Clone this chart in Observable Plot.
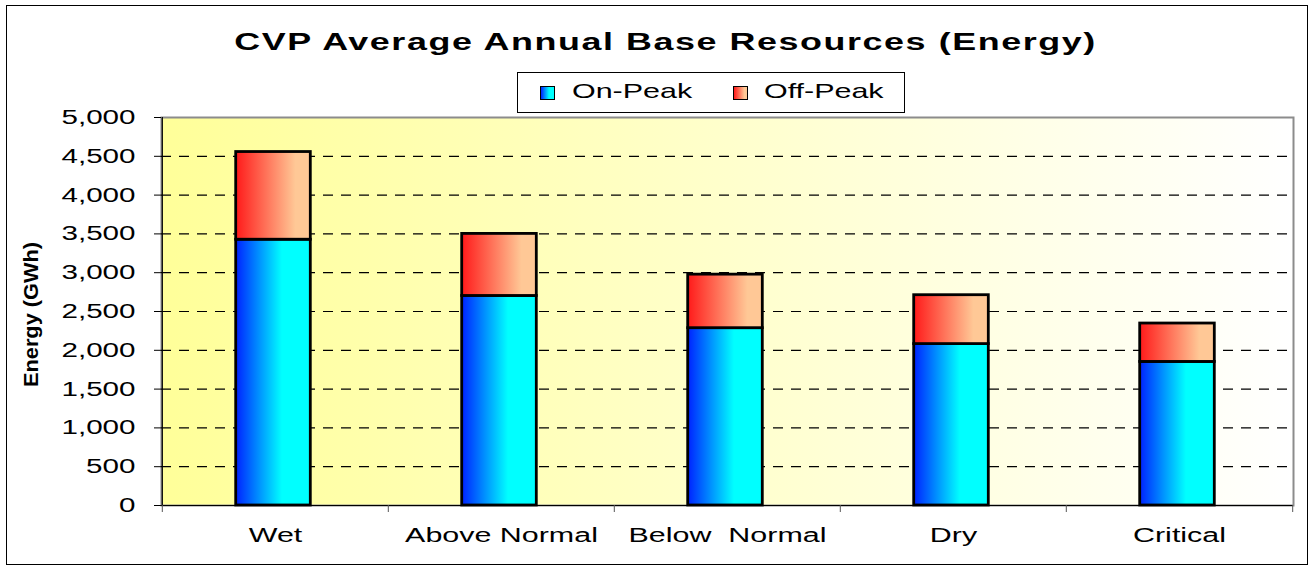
<!DOCTYPE html>
<html>
<head>
<meta charset="utf-8">
<script src="https://cdn.jsdelivr.net/npm/d3@7"></script>
<script src="https://cdn.jsdelivr.net/npm/@observablehq/plot@0.6"></script>
<style>
  html, body { margin: 0; padding: 0; background: #fff; }
  #wrap { position: relative; width: 1314px; height: 570px; overflow: hidden; font-family: "Liberation Sans", Arial, sans-serif; }
  #border { position: absolute; left: 6px; top: 5px; width: 1302px; height: 560px; border: 1px solid #000; box-sizing: border-box; }
  #chart { position: absolute; left: 0; top: 0; }
  #title { position: absolute; left: 0; top: 28px; width: 1330px; text-align: center; line-height: 28px; }
  #title span { display: inline-block; font-weight: bold; font-size: 23px; letter-spacing: 1px; transform: scaleX(1.56); }
  #legend { position: absolute; left: 517px; top: 72px; width: 388px; height: 41px; border: 1px solid #000; box-sizing: border-box; background: #fff; }
  .sw { position: absolute; top: 13px; width: 15px; height: 14px; box-sizing: border-box; border: 1px solid #000; }
  .lt { position: absolute; top: 7px; font-size: 21px; line-height: 21px; transform: scaleX(1.45); transform-origin: left center; white-space: nowrap; }
</style>
</head>
<body>
<div id="wrap">
  <div id="border"></div>
  <div id="chart"></div>
  <div id="title"><span></span></div>
  <div id="legend"></div>
</div>
<script>
const titleText = "CVP Average Annual Base Resources (Energy)";
const yLabel = "Energy (GWh)";
const categories = ["Wet", "Above Normal", "Below  Normal", "Dry", "Critical"];
const seriesNames = ["On-Peak", "Off-Peak"];
const onPeak = [3425, 2700, 2285, 2080, 1850];
const offPeak = [1130, 800, 690, 630, 495];
const yTicks = [0, 500, 1000, 1500, 2000, 2500, 3000, 3500, 4000, 4500, 5000];
const gridTicks = [500, 1000, 1500, 2000, 2500, 3000, 3500, 4000, 4500];

const rows = categories.flatMap((c, i) => [
  {cat: c, series: seriesNames[0], value: onPeak[i]},
  {cat: c, series: seriesNames[1], value: offPeak[i]}
]);
const gradFor = {"On-Peak": "url(#gOn)", "Off-Peak": "url(#gOff)"};

const W = 1314, H = 570, mL = 161, mR = 21, mT = 117, mB = 65;
const step = (W - mL - mR) / categories.length;
const inset = (step - 75) / 2;

const plot = Plot.plot({
  width: W, height: H,
  marginLeft: mL, marginRight: mR, marginTop: mT, marginBottom: mB,
  style: {fontFamily: "'Liberation Sans', Arial, sans-serif", fontSize: "20px", color: "#000", background: "transparent"},
  x: {domain: categories, padding: 0, label: null},
  y: {domain: [0, 5000], label: null},
  marks: [
    Plot.frame({fill: "url(#gBg)", stroke: "#8c8c8c", strokeWidth: 2}),
    Plot.ruleY(gridTicks, {stroke: "#000", strokeWidth: 1.2, strokeDasharray: "10,8"}),
    Plot.barY(rows, Plot.stackY({x: "cat", y: "value", fill: d => gradFor[d.series], stroke: "#000", strokeWidth: 2.8, insetLeft: inset - 2, insetRight: inset + 2})),
    Plot.ruleY([0], {stroke: "#000", strokeWidth: 1.2}),
    Plot.ruleX([categories[0]], {y1: 0, y2: 5000, dx: -step / 2, stroke: "#000", strokeWidth: 1.2}),
    Plot.ruleX(categories, {y1: 0, y2: 0, dx: -step / 2, insetBottom: -7, stroke: "#555"}),
    Plot.ruleX([categories[categories.length - 1]], {y1: 0, y2: 0, dx: step / 2, insetBottom: -7, stroke: "#555"}),
    Plot.axisY({ticks: yTicks, tickFormat: d3.format(","), tickSize: 7, tickPadding: 19, fontSize: 20, stroke: "#000"}),
    Plot.axisX({tickSize: 0, tickPadding: 22, fontSize: 21}),
    Plot.text([yLabel], {frameAnchor: "left", textAnchor: "middle", dx: -130, dy: 3, rotate: -90, fontWeight: "bold", fontSize: 21, className: "ylab"})
  ]
});

const svg = d3.select(plot);
const defs = svg.insert("defs", ":first-child");
const bg = defs.append("linearGradient").attr("id", "gBg").attr("x1", 0).attr("x2", 1).attr("y1", 0).attr("y2", 0);
bg.append("stop").attr("offset", "0%").attr("stop-color", "#ffff99");
bg.append("stop").attr("offset", "100%").attr("stop-color", "#ffffff");
const gOn = defs.append("linearGradient").attr("id", "gOn").attr("x1", 0).attr("x2", 1).attr("y1", 0).attr("y2", 0);
gOn.append("stop").attr("offset", "0%").attr("stop-color", "#0022ff");
gOn.append("stop").attr("offset", "62%").attr("stop-color", "#00ffff");
gOn.append("stop").attr("offset", "100%").attr("stop-color", "#00ffff");
const gOff = defs.append("linearGradient").attr("id", "gOff").attr("x1", 0).attr("x2", 1).attr("y1", 0).attr("y2", 0);
gOff.append("stop").attr("offset", "0%").attr("stop-color", "#ff1a1a");
gOff.append("stop").attr("offset", "80%").attr("stop-color", "#ffc896");
gOff.append("stop").attr("offset", "100%").attr("stop-color", "#ffc896");

function stretch(sel, s) {
  sel.each(function () {
    const t = this.getAttribute("transform");
    if (t) {
      this.setAttribute("transform", t + ` scale(${s},1)`);
    } else {
      const x = +this.getAttribute("x") || 0;
      this.setAttribute("transform", `translate(${x},0) scale(${s},1) translate(${-x},0)`);
    }
  });
}
stretch(svg.selectAll('g[aria-label="y-axis tick label"] text'), 1.48);
stretch(svg.selectAll('g[aria-label="x-axis tick label"] text'), 1.45);
svg.selectAll("g.ylab text").attr("textLength", 145).attr("lengthAdjust", "spacingAndGlyphs");

document.getElementById("chart").appendChild(plot);
document.querySelector("#title span").textContent = titleText;

const legend = document.getElementById("legend");
const legItems = [
  {name: seriesNames[0], sw: 22, tx: 54, bg: "linear-gradient(to right, #0022ff, #00ffff 62%)"},
  {name: seriesNames[1], sw: 215, tx: 246, bg: "linear-gradient(to right, #ff1a1a, #ffc896 80%)"}
];
legItems.forEach(it => {
  const s = document.createElement("div");
  s.className = "sw"; s.style.left = it.sw + "px"; s.style.background = it.bg;
  legend.appendChild(s);
  const t = document.createElement("div");
  t.className = "lt"; t.style.left = it.tx + "px"; t.textContent = it.name;
  legend.appendChild(t);
});
</script>
</body>
</html>
